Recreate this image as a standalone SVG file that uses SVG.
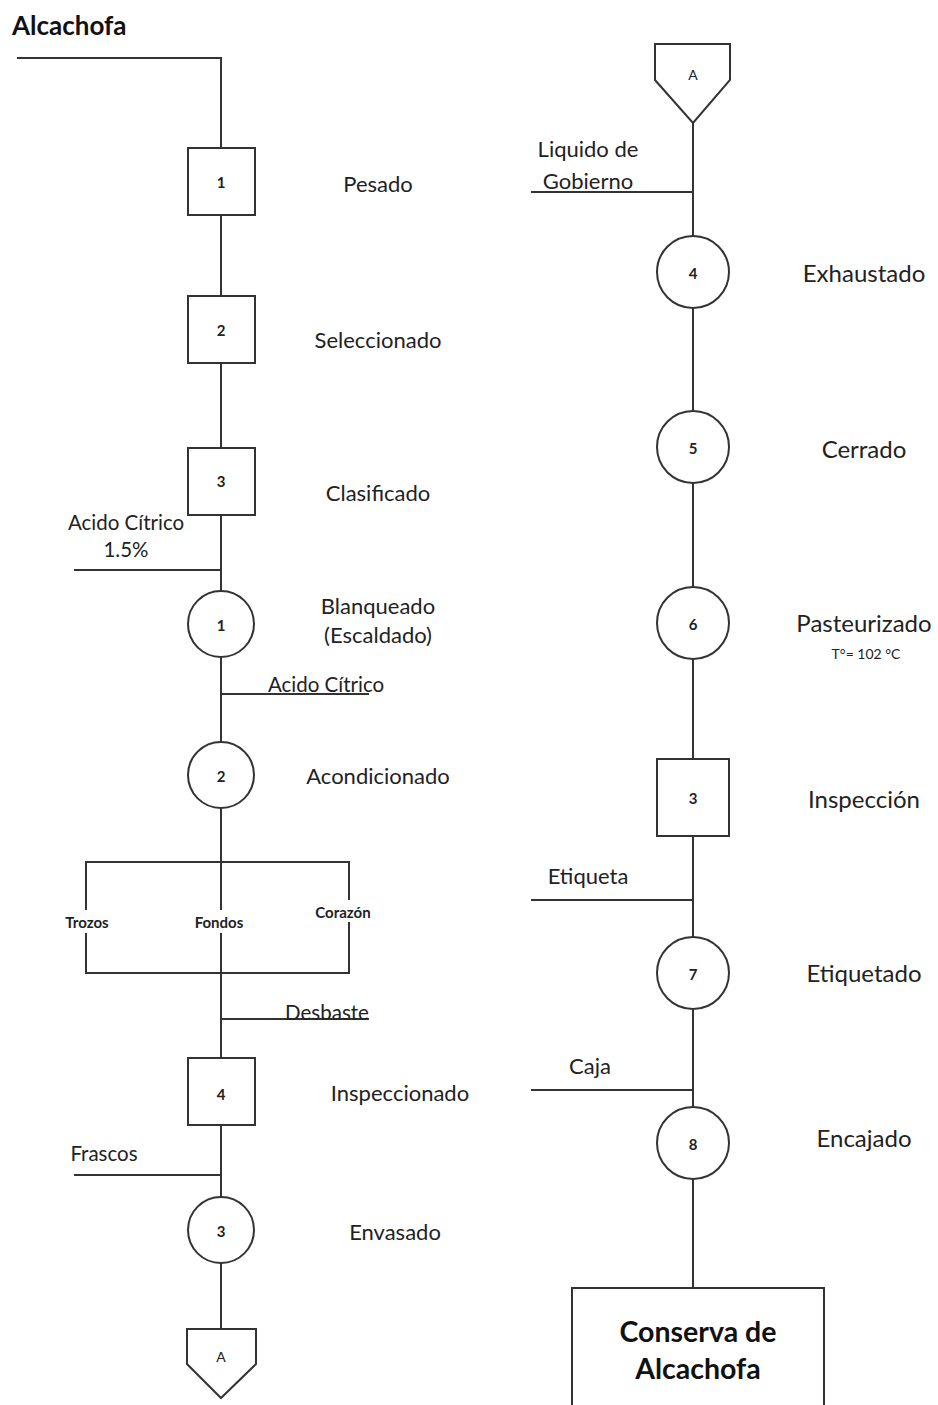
<svg xmlns="http://www.w3.org/2000/svg" width="938" height="1405" viewBox="0 0 938 1405">
<style>
.ln{stroke:#333;stroke-width:2;fill:none}
.nd{stroke:#333;stroke-width:2;fill:#fff}
.num{font-family:Lato,"Liberation Sans",sans-serif;font-weight:bold;font-size:15px;fill:#222;text-anchor:middle;dominant-baseline:central}
.cn{font-family:Lato,"Liberation Sans",sans-serif;font-size:14px;fill:#222;text-anchor:middle;dominant-baseline:central}
.lb{font-family:Lato,"Liberation Sans",sans-serif;font-size:22px;fill:#222;text-anchor:middle;dominant-baseline:central}
.rl{font-family:Lato,"Liberation Sans",sans-serif;font-size:24px;fill:#222;text-anchor:middle;dominant-baseline:central}
.sm{font-family:Lato,"Liberation Sans",sans-serif;font-size:20.5px;fill:#222;text-anchor:middle;dominant-baseline:central}
.rs{font-family:Lato,"Liberation Sans",sans-serif;font-size:22px;fill:#222;text-anchor:middle;dominant-baseline:central}
.br{font-family:Lato,"Liberation Sans",sans-serif;font-weight:bold;font-size:15px;fill:#222;text-anchor:middle;dominant-baseline:central}
.big{font-family:Lato,"Liberation Sans",sans-serif;font-weight:bold;font-size:28.5px;fill:#111;text-anchor:middle;dominant-baseline:central}
</style>
<rect width="938" height="1405" fill="#fff"/>
<text x="12" y="25" font-family="Lato,'Liberation Sans',sans-serif" font-weight="bold" font-size="26" fill="#111" dominant-baseline="central">Alcachofa</text>
<g id="connectors">
<polyline class="ln" points="17,58 221,58 221,148"/>
<line class="ln" x1="221" y1="215" x2="221" y2="296"/>
<line class="ln" x1="221" y1="363" x2="221" y2="448"/>
<line class="ln" x1="221" y1="515" x2="221" y2="591"/>
<line class="ln" x1="74" y1="570" x2="221" y2="570"/>
<line class="ln" x1="221" y1="657" x2="221" y2="742"/>
<line class="ln" x1="221" y1="694" x2="369" y2="694"/>
<line class="ln" x1="221" y1="808" x2="221" y2="910"/>
<line class="ln" x1="221" y1="933" x2="221" y2="1058"/>
<polyline class="ln" points="86,910 86,862 349,862 349,900"/>
<polyline class="ln" points="86,933 86,973 349,973 349,922"/>
<line class="ln" x1="221" y1="1019" x2="369" y2="1019"/>
<line class="ln" x1="221" y1="1125" x2="221" y2="1197"/>
<line class="ln" x1="74" y1="1175" x2="221" y2="1175"/>
<line class="ln" x1="221" y1="1263" x2="221" y2="1329"/>
<line class="ln" x1="693" y1="123" x2="693" y2="236"/>
<line class="ln" x1="531" y1="192" x2="693" y2="192"/>
<line class="ln" x1="693" y1="308" x2="693" y2="411"/>
<line class="ln" x1="693" y1="483" x2="693" y2="587"/>
<line class="ln" x1="693" y1="659" x2="693" y2="759"/>
<line class="ln" x1="693" y1="836" x2="693" y2="937"/>
<line class="ln" x1="531" y1="900" x2="693" y2="900"/>
<line class="ln" x1="693" y1="1009" x2="693" y2="1107"/>
<line class="ln" x1="531" y1="1090" x2="693" y2="1090"/>
<line class="ln" x1="693" y1="1179" x2="693" y2="1288"/>
</g>
<g id="n-box1"><rect class="nd" x="188" y="148" width="67" height="67"/><text class="num" x="221" y="182">1</text></g>
<g id="n-box2"><rect class="nd" x="188" y="296" width="67" height="67"/><text class="num" x="221" y="330">2</text></g>
<g id="n-box3"><rect class="nd" x="188" y="448" width="67" height="67"/><text class="num" x="221" y="481">3</text></g>
<g id="n-circ1"><circle class="nd" cx="221" cy="624" r="33"/><text class="num" x="221" y="625">1</text></g>
<g id="n-circ2"><circle class="nd" cx="221" cy="775" r="33"/><text class="num" x="221" y="776">2</text></g>
<g id="n-box4"><rect class="nd" x="188" y="1058" width="67" height="67"/><text class="num" x="221" y="1094">4</text></g>
<g id="n-circ3"><circle class="nd" cx="221" cy="1230" r="33"/><text class="num" x="221" y="1231">3</text></g>
<g id="n-connA-out"><polygon class="nd" points="187,1329 256,1329 256,1364 221,1398 187,1364"/><text class="cn" x="221" y="1356">A</text></g>
<g id="n-connA-in"><polygon class="nd" points="655,44 730,44 730,80 693,123 655,80"/><text class="cn" x="693" y="74">A</text></g>
<g id="n-circ4"><circle class="nd" cx="693" cy="272" r="36"/><text class="num" x="693" y="273">4</text></g>
<g id="n-circ5"><circle class="nd" cx="693" cy="447" r="36"/><text class="num" x="693" y="448">5</text></g>
<g id="n-circ6"><circle class="nd" cx="693" cy="623" r="36"/><text class="num" x="693" y="624">6</text></g>
<g id="n-box3r"><rect class="nd" x="657" y="759" width="72" height="77"/><text class="num" x="693" y="798">3</text></g>
<g id="n-circ7"><circle class="nd" cx="693" cy="973" r="36"/><text class="num" x="693" y="974">7</text></g>
<g id="n-circ8"><circle class="nd" cx="693" cy="1143" r="36"/><text class="num" x="693" y="1144">8</text></g>
<g id="n-final"><rect class="nd" x="572" y="1288" width="252" height="140"/><text class="big" x="698" y="1331">Conserva de</text><text class="big" x="698" y="1368">Alcachofa</text></g>
<g id="labels">
<text class="lb" x="378" y="183">Pesado</text>
<text class="lb" x="378" y="339">Seleccionado</text>
<text class="lb" x="378" y="492">Clasificado</text>
<text class="lb" x="378" y="605">Blanqueado</text>
<text class="lb" x="378" y="634">(Escaldado)</text>
<text class="lb" x="378" y="775">Acondicionado</text>
<text class="lb" x="400" y="1092">Inspeccionado</text>
<text class="lb" x="395" y="1231">Envasado</text>
<text class="sm" x="126" y="522">Acido Cítrico</text>
<text class="sm" x="126" y="549">1.5%</text>
<text class="sm" x="326" y="684">Acido Cítrico</text>
<text class="br" x="87" y="922">Trozos</text>
<text class="br" x="219" y="922">Fondos</text>
<text class="br" x="343" y="912">Corazón</text>
<text class="sm" x="327" y="1012">Desbaste</text>
<text class="sm" x="104" y="1153">Frascos</text>
<text class="rl" x="864" y="272">Exhaustado</text>
<text class="rl" x="864" y="448">Cerrado</text>
<text class="rl" x="864" y="622">Pasteurizado</text>
<text class="cn" x="866" y="653">T°= 102 °C</text>
<text class="rl" x="864" y="798">Inspección</text>
<text class="rl" x="864" y="972">Etiquetado</text>
<text class="rl" x="864" y="1137">Encajado</text>
<text class="rs" x="588" y="148">Liquido de</text>
<text class="rs" x="588" y="180">Gobierno</text>
<text class="rs" x="588" y="875">Etiqueta</text>
<text class="rs" x="590" y="1065">Caja</text>
</g>
</svg>
